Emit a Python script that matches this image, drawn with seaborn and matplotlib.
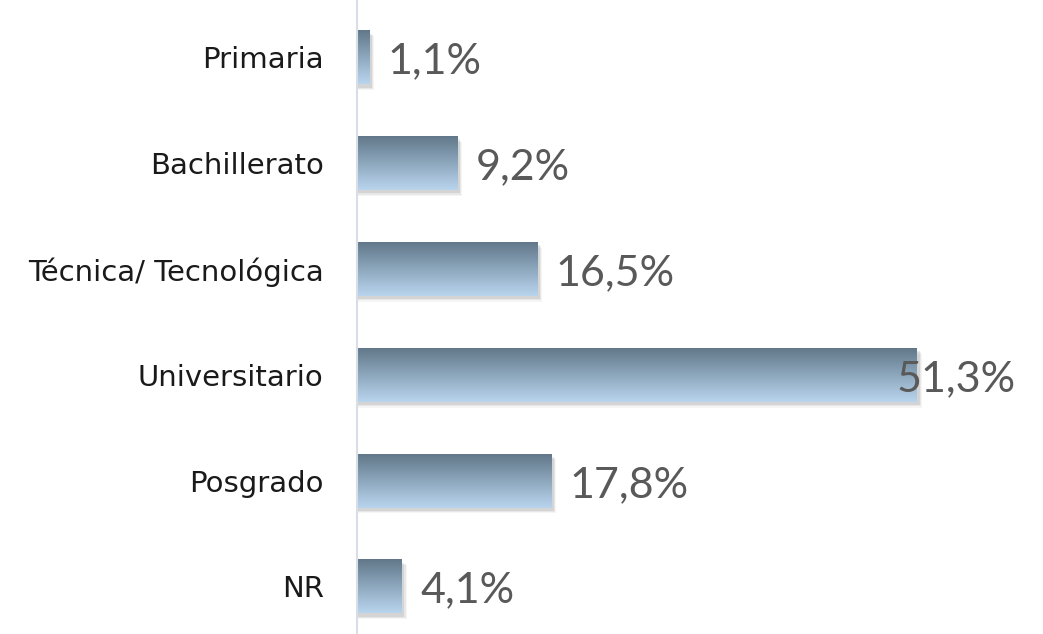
import numpy as np
import pandas as pd
import matplotlib
matplotlib.use("Agg")
import matplotlib.pyplot as plt
from matplotlib.colors import LinearSegmentedColormap
from matplotlib.patches import Rectangle
import seaborn as sns

# data
niveles = ["Primaria", "Bachillerato", "Técnica/ Tecnológica", "Universitario", "Posgrado", "NR"]
porcentajes = [1.1, 9.2, 16.5, 51.3, 17.8, 4.1]
etiquetas = ["1,1%", "9,2%", "16,5%", "51,3%", "17,8%", "4,1%"]

df = pd.DataFrame({"nivel": niveles, "pct": porcentajes})

sns.set_style("white")
plt.rcParams["font.family"] = ["Lato", "DejaVu Sans"]

fig = plt.figure(figsize=(10.43, 6.34), dpi=100)
ax = fig.add_axes([357 / 1043, 0, 656 / 1043, 1])

sns.barplot(data=df, x="pct", y="nivel", orient="h", width=0.51, color="#8aa4bb", ax=ax)

xmax = 51.3 * 656 / 560
ax.set_xlim(0, xmax)
ax.set_ylim(5.45, -0.543)

# dark on top, light at the bottom
grad = LinearSegmentedColormap.from_list("g", ["#62788a", "#8da7bd", "#b9d5ee"])
img = np.linspace(0, 1, 256).reshape(-1, 1)

for p in ax.patches:
    x0, y0 = p.get_x(), p.get_y()
    w, h = p.get_width(), p.get_height()
    # soft shadow under the bar
    for k, a in enumerate([0.10, 0.08, 0.05]):
        ax.add_patch(Rectangle((x0, y0 + 0.03 + 0.012 * k), w + 0.25 + 0.1 * k, h,
                               facecolor="#404040", edgecolor="none", alpha=a, zorder=1))
    p.set_facecolor("none")
    p.set_edgecolor("none")
    ax.imshow(img, cmap=grad, aspect="auto", extent=(x0, x0 + w, y0 + h, y0),
              origin="upper", zorder=2, interpolation="bicubic")

ax.set_xlim(0, xmax)
ax.set_ylim(5.45, -0.543)

# value labels
limite = 49.45
for i, (v, t) in enumerate(zip(porcentajes, etiquetas)):
    ax.text(min(v + 1.7, limite), i + 0.04, t, ha="left", va="center",
            fontsize=31, color="#595959", zorder=5)

ax.set_xlabel("")
ax.set_ylabel("")
ax.set_xticks([])
ax.tick_params(axis="y", length=0, pad=24, labelsize=21, labelcolor="#1a1a1a")
for lab in ax.get_yticklabels():
    lab.set_fontfamily(["DejaVu Sans"])

for s in ["top", "right", "bottom"]:
    ax.spines[s].set_visible(False)
ax.spines["left"].set_color("#d9dee6")
ax.spines["left"].set_linewidth(1.5)

fig.savefig("out.png", dpi=100, facecolor="white")
